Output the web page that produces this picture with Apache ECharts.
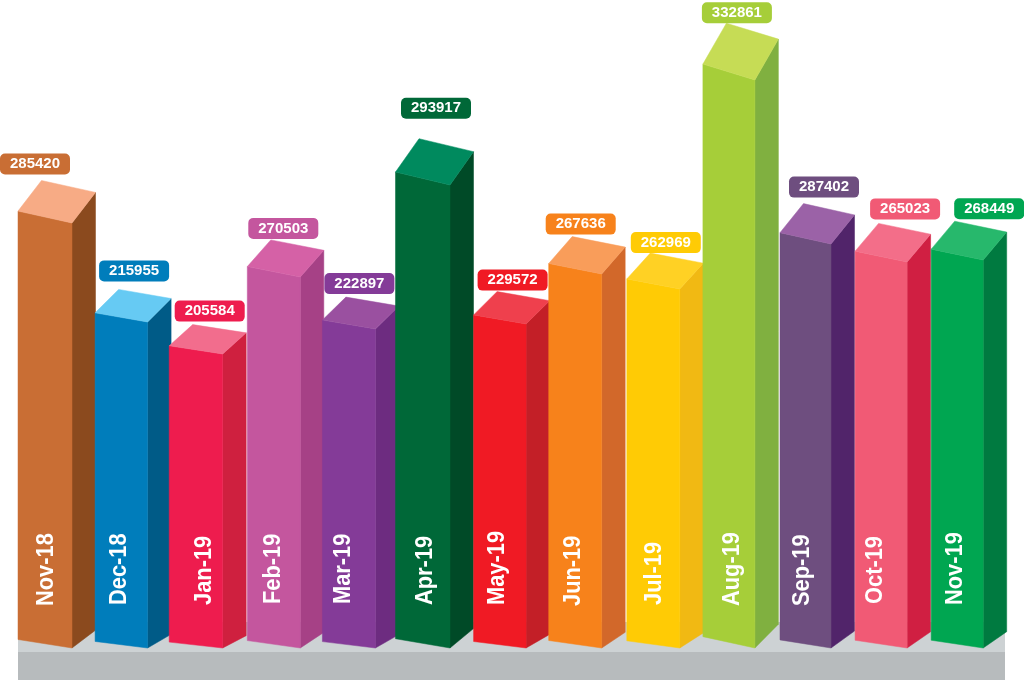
<!DOCTYPE html>
<html><head><meta charset="utf-8">
<style>html,body{margin:0;padding:0;background:#fff}#c{width:1024px;height:682px}</style>
<script src="https://cdn.jsdelivr.net/npm/echarts@6/dist/echarts.min.js"></script>
</head><body><div id="c"></div>
<script>
// Data
const months = ['Nov-18','Dec-18','Jan-19','Feb-19','Mar-19','Apr-19','May-19','Jun-19','Jul-19','Aug-19','Sep-19','Oct-19','Nov-19'];
const printedValues = [285420,215955,205584,270503,222897,293917,229572,267636,262969,332861,287402,265023,268449];
// The reference's bar heights are not proportional to its printed labels,
// so the drawn height of each bar is read separately (front right edge, axis units).
const drawnHeights = [425,326,294,371,319,463,324,374,359,568,404,386,388];

// Styles
const frontColors = ['#c96e34','#007dbb','#ee1c4e','#c4569e','#843b98','#006838','#f01a24','#f7821b','#ffcb05','#a6ce39','#6e4e7f','#f15a75','#00a651'];
const topColors   = ['#f7ab85','#66caf3','#f26d8d','#d561a6','#9a50a0','#008a5e','#ef404d','#f99d5a','#ffd124','#c6dc55','#9b62a7','#f36e89','#27b86c'];
const sideColors  = ['#8b4a1e','#005b87','#cf203f','#a64186','#6d2c80','#004a27','#c31f27','#d2682a','#f1b913','#80b040','#51246a','#d01f42','#007a40'];
// Layout tweaks (pixels)
const barNudge   = [0,1,-1,1,0,-3,-1,-2,0,0,1,0,0];
const frontWidth = [54,52.5,53.5,53,53,54.5,52.5,53,53,52,51,52,52];
const pillCentre = [17,39,40.5,36,37,40.5,39,32,39,34,44,50,58];
const pillGap    = [6,8,3,1,3,20,1,2,0,0,6,4,2];
const monthShift = [1.5,-2.5,8.5,-0.5,-5.5,3.5,-2.5,-2,1,2.5,-4.5,-6.5,-2.5];
const monthFoot  = [606,605,605,604,604,605,605,606,605,606,606,604,605];

const DX = 23.5;
function geom(api){
  const i = api.value(0), h = api.value(1);
  const top = api.coord([i,h]), base = api.coord([i,0]);
  const L = base[0]-26.5+barNudge[i], R = L+frontWidth[i];
  const H = base[1]-top[1];
  return {i,L,R,TR:top[1],B:base[1],TL:top[1]-0.028*H,rise:0.072*H,
          lowSlant:0.02*H,sideRise:0.042*H};
}
function poly(points,fill){
  return {type:'polygon',shape:{points},style:{fill,stroke:fill,lineWidth:0.5}};
}
function renderBar(p,api){
  const g = geom(api);
  return {type:'group',children:[
    poly([[g.R,g.TR],[g.R+DX,g.TR-g.rise],[g.R+DX,g.B-g.sideRise],[g.R,g.B]],sideColors[g.i]),
    poly([[g.L,g.TL],[g.R,g.TR],[g.R,g.B],[g.L,g.B-g.lowSlant]],frontColors[g.i]),
    poly([[g.L,g.TL],[g.L+DX,g.TL-g.rise],[g.R+DX,g.TR-g.rise],[g.R,g.TR]],topColors[g.i]),
    {type:'text',x:g.L+26.5+monthShift[g.i],y:monthFoot[g.i],rotation:Math.PI/2,scaleX:0.91,
     style:{x:0,y:0,text:months[g.i],fill:'#fff',align:'left',verticalAlign:'middle',
            font:'bold 24px "Liberation Sans", Arial, sans-serif'}}
  ]};
}
function renderPill(p,api){
  const g = geom(api);
  const cx = g.L+pillCentre[g.i], bottom = g.TL-g.rise-pillGap[g.i];
  return {type:'group',children:[
    {type:'rect',shape:{x:cx-35,y:bottom-21,width:70,height:21,r:5},
     style:{fill:frontColors[g.i]}},
    {type:'text',x:cx,y:bottom-10.5,
     style:{x:0,y:0,text:String(printedValues[g.i]),fill:'#fff',align:'center',verticalAlign:'middle',
            font:'bold 15px "Liberation Sans", Arial, sans-serif'}}
  ]};
}
const chartData = drawnHeights.map((h,i)=>[i,h]);
const chart = echarts.init(document.getElementById('c'),null,{renderer:'canvas'});
chart.setOption({
  animation:false,
  backgroundColor:'#fff',
  grid:{left:6.45,top:0,width:989.3,height:648},
  xAxis:{type:'category',data:months,show:false},
  yAxis:{type:'value',min:0,max:648,show:false},
  graphic:{elements:[
    {type:'rect',z:0,shape:{x:18,y:622,width:987,height:30},style:{fill:'#cdd2d4'}},
    {type:'rect',z:0,shape:{x:18,y:652,width:987,height:28},style:{fill:'#b7bbbd'}}
  ]},
  series:[
    {type:'custom',z:5,coordinateSystem:'cartesian2d',data:chartData,renderItem:renderBar,encode:{x:0,y:1},clip:false,silent:true},
    {type:'custom',z:6,coordinateSystem:'cartesian2d',data:chartData,renderItem:renderPill,encode:{x:0,y:1},clip:false,silent:true}
  ]
});
</script></body></html>
